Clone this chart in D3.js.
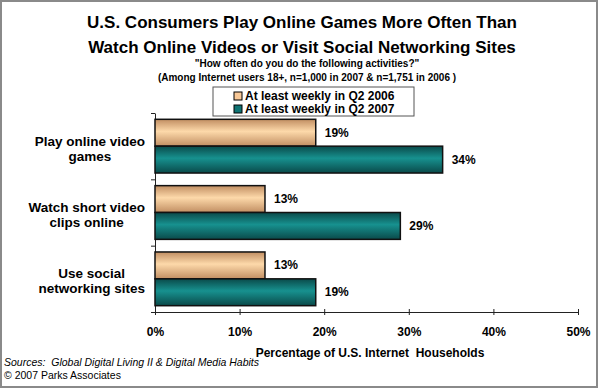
<!DOCTYPE html>
<html><head><meta charset="utf-8">
<script src="https://cdn.jsdelivr.net/npm/d3@7"></script>
<style>body{margin:0;background:#fff}svg{display:block;font-family:Arial,"Liberation Sans",sans-serif}</style>
</head><body><svg id="c" width="600" height="390"></svg>
<script>
const categories = [["Play online video","games"],["Watch short video","clips online"],["Use social","networking sites"]];
const seriesNames = ["At least weekly in Q2 2006","At least weekly in Q2 2007"];
const values2006 = [19,13,13];
const values2007 = [34,29,19];
const xTicks = [0,10,20,30,40,50];

const svg = d3.select("#c");
const defs = svg.append("defs");
function grad(id, edge, mid){
  const g = defs.append("linearGradient").attr("id",id).attr("x1",0).attr("y1",0).attr("x2",0).attr("y2",1);
  g.append("stop").attr("offset","0%").attr("stop-color",edge);
  g.append("stop").attr("offset","45%").attr("stop-color",mid);
  g.append("stop").attr("offset","100%").attr("stop-color",edge);
}
grad("gA","#c18e62","#fdd9aa");
grad("gB","#0a4a4a","#17918f");
const fills = ["url(#gA)","url(#gB)"];
const swatch = ["#f8c897","#0e7373"];

// frame
svg.append("rect").attr("x",1).attr("y",1).attr("width",596).attr("height",386).attr("fill","#fff").attr("stroke","#8a8a8a").attr("stroke-width",2);

// titles
const t = svg.append("g").attr("text-anchor","middle").attr("font-weight","bold");
t.append("text").attr("x",302).attr("y",28).attr("font-size",17).text("U.S. Consumers Play Online Games More Often Than");
t.append("text").attr("x",302).attr("y",53).attr("font-size",17).text("Watch Online Videos or Visit Social Networking Sites");
t.append("text").attr("x",307).attr("y",67).attr("font-size",10).text("\"How often do you do the following activities?\"");
t.append("text").attr("x",307).attr("y",81).attr("font-size",10).text("(Among Internet users 18+, n=1,000 in 2007 & n=1,751 in 2006 )");

const x = d3.scaleLinear().domain([0,50]).range([155,578]);
const y = d3.scaleBand().domain(d3.range(categories.length)).range([113,312]).paddingInner(0.19).paddingOuter(0.095);
const y1 = d3.scaleBand().domain([0,1]).range([0,y.bandwidth()]);

// axes
const xa = svg.append("g").attr("transform","translate(0,312)")
  .call(d3.axisBottom(x).tickValues(xTicks).tickFormat(d=>d+"%").tickSize(5).tickSizeOuter(0));
xa.select(".domain").attr("stroke","#222");
xa.selectAll(".tick line").attr("stroke","#222").attr("y1",-3).attr("y2",3);
xa.selectAll("text").attr("font-size",12).attr("font-weight","bold").attr("fill","#000").attr("y",24).attr("dy",0);

const yb = d3.scaleLinear().domain([0,3]).range([113,312]);
const ya = svg.append("g").attr("transform","translate(155,0)")
  .call(d3.axisLeft(yb).ticks(3).tickFormat("").tickSize(4).tickSizeOuter(0));
ya.select(".domain").attr("stroke","#222");
ya.selectAll(".tick line").attr("stroke","#222");

// category labels
categories.forEach((lines,i)=>{
  const cy = y(i)+y.bandwidth()/2;
  const texts = lines.map((l,j)=>svg.append("text").attr("y",cy-0.5+j*15).attr("x",0)
    .attr("text-anchor","middle").attr("font-size",13.5).attr("font-weight","bold").text(l));
  const maxW = d3.max(texts, s=>s.node().getBBox().width);
  texts.forEach(s=>s.attr("x",145-maxW/2));
});

// bars
const series = [values2006, values2007];
series.forEach((vals,s)=>{
  const g = svg.append("g");
  g.selectAll("rect").data(vals).join("rect")
    .attr("x",x(0)).attr("y",(d,i)=>y(i)+y1(s)).attr("width",d=>x(d)-x(0)).attr("height",y1.bandwidth())
    .attr("fill",fills[s]).attr("stroke","#111").attr("stroke-width",1.5);
  g.selectAll("text").data(vals).join("text")
    .attr("x",d=>x(d)+9).attr("y",(d,i)=>y(i)+y1(s)+y1.bandwidth()/2+4)
    .attr("font-size",12).attr("font-weight","bold").text(d=>d+"%");
});

// legend
const lg = svg.append("g");
lg.append("rect").attr("x",213).attr("y",87).attr("width",201).attr("height",29).attr("fill","#fff").attr("stroke","#555").attr("stroke-width",1);
seriesNames.forEach((n,i)=>{
  lg.append("rect").attr("x",234).attr("y",92+i*13).attr("width",8).attr("height",8).attr("fill",swatch[i]).attr("stroke","#000").attr("stroke-width",1);
  lg.append("text").attr("x",245).attr("y",100+i*13).attr("font-size",12).attr("font-weight","bold").text(n);
});

// axis title & sources
svg.append("text").attr("x",370).attr("y",357).attr("text-anchor","middle").attr("font-size",12).attr("font-weight","bold").text("Percentage of U.S. Internet  Households").style("white-space","pre");
svg.append("text").attr("x",4).attr("y",366).attr("font-size",10.5).attr("font-style","italic").text("Sources:  Global Digital Living II & Digital Media Habits").style("white-space","pre");
svg.append("text").attr("x",4).attr("y",379).attr("font-size",10.5).text("© 2007 Parks Associates");
</script></body></html>
